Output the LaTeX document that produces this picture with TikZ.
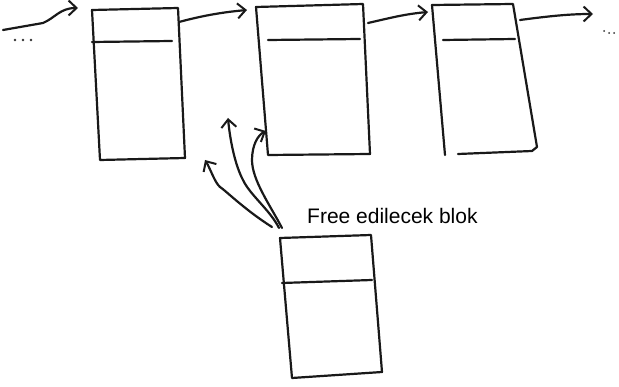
\documentclass[tikz,border=0pt]{standalone}
\usepackage{fontspec}
\setmainfont{Liberation Sans}
\usetikzlibrary{arrows.meta}
\begin{document}
\begin{tikzpicture}[x=1pt,y=-1pt,
  ink/.style={line width=2.2pt,line cap=round,line join=round,black!90},
  arr/.style={ink,-{Straight Barb[length=8pt,width=15pt,line width=2pt]}},
  dot/.style={circle,fill=black!80,inner sep=0pt,minimum size=2.6pt},
  lbl/.style={font=\fontsize{21}{22}\selectfont,inner sep=0pt}]
\useasboundingbox (0,0) rectangle (619,387);
% block 1
\draw[ink] (92,10) -- (178,8) -- (185,158) -- (100,160) -- cycle;
\draw[ink] (92,42) -- (172,41);
% block 2
\draw[ink] (256,7) -- (363,4) -- (370,154) -- (268,155) -- cycle;
\draw[ink] (268,40) -- (360,39);
% block 3
\draw[ink] (432,5) -- (513,4) -- (537,147) -- (532,151) -- (458,154);
\draw[ink] (432,5) -- (445,155);
\draw[ink] (443,40) -- (515,39);
% free block
\draw[ink] (280,238) -- (371,235) -- (382,372) -- (292,378) -- cycle;
\draw[ink] (282,283) -- (372,280);
% coordinates
\coordinate (inS) at (3,30);
\coordinate (inE) at (78,8);
\coordinate (b1o) at (179,22);
\coordinate (b2i) at (247,10);
\coordinate (b2o) at (368,23);
\coordinate (b3i) at (428,12);
\coordinate (b3o) at (520,20);
\coordinate (outE) at (593,14);
\coordinate (f1) at (272,227);
\coordinate (f2) at (279,228);
\coordinate (f3) at (282,228);
\coordinate (t1) at (205,160);
\coordinate (t2) at (228,118);
\coordinate (t3) at (266,131);
\node[dot] (dl1) at (15,40) {};
\node[dot] (dl2) at (23,40) {};
\node[dot] (dl3) at (31,40) {};
\node[dot,minimum size=2pt] (dr1) at (604,31) {};
\node[dot,minimum size=2pt] (dr2) at (609,33) {};
\node[dot,minimum size=2pt] (dr3) at (614,33) {};
\node[lbl,anchor=west] (free) at (307,216) {Free edilecek blok};
% arrows
\draw[arr] (inS) -- (43,23) .. controls (55,18) and (60,8) .. (inE);
\draw[arr] (b1o) .. controls (205,15) and (225,12) .. (b2i);
\draw[arr] (b2o) .. controls (390,18) and (405,14) .. (b3i);
\draw[arr] (b3o) .. controls (550,16) and (570,14) .. (outE);
\draw[arr] (f1) .. controls (245,210) and (225,190) .. (220,187) .. controls (215,183) and (210,168) .. (t1);
\draw[arr] (f2) .. controls (270,210) and (250,195) .. (243,180) .. controls (235,165) and (230,140) .. (t2);
\draw[arr] (f3) .. controls (270,205) and (252,180) .. (252,160) .. controls (252,145) and (258,135) .. (t3);
\end{tikzpicture}
\end{document}
